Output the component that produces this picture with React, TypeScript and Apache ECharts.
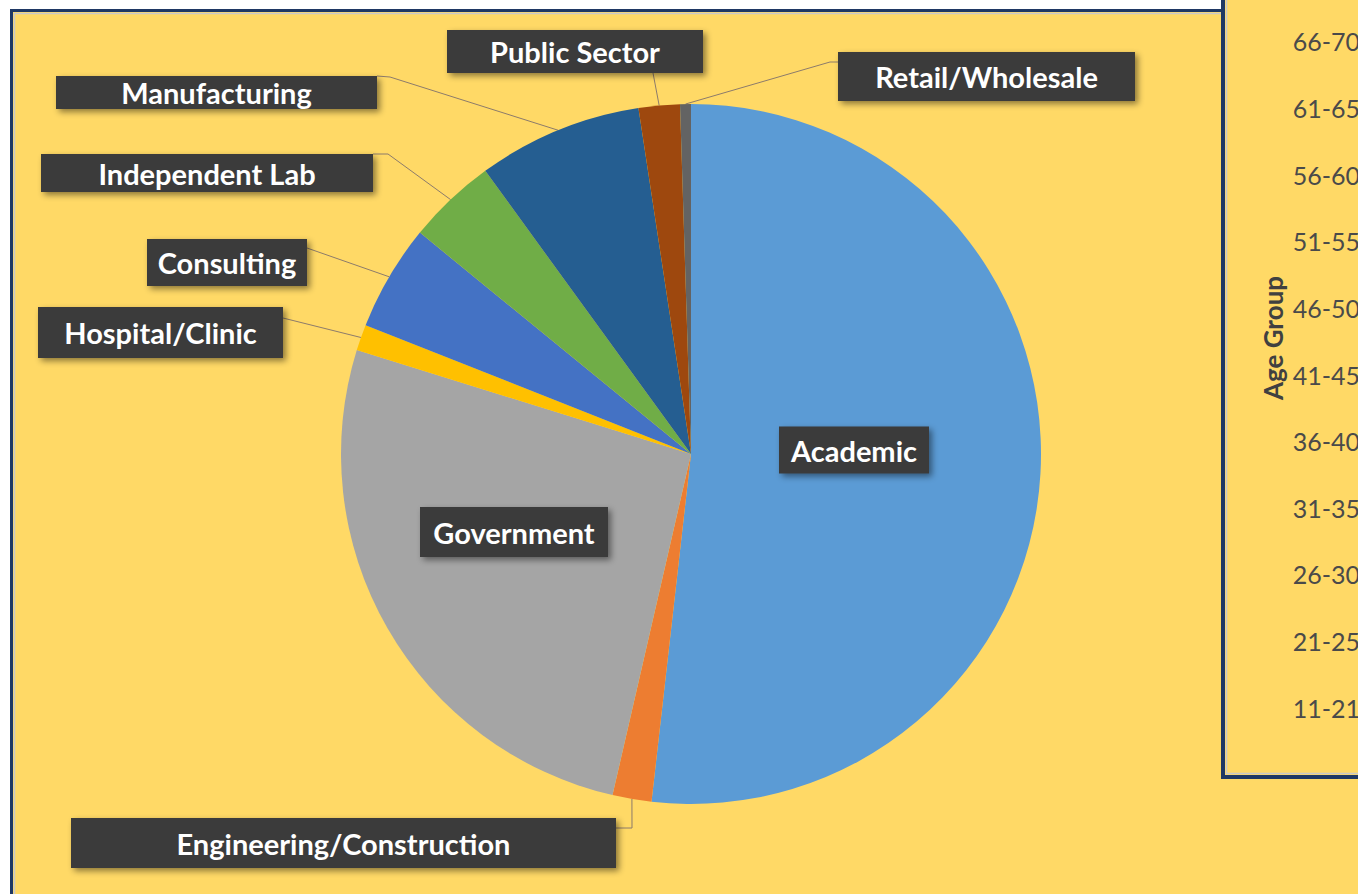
import React, { useEffect, useRef } from "react";
import * as echarts from "echarts";

// ---- data ----
const SECTORS = [
  "Academic",
  "Engineering/Construction",
  "Government",
  "Hospital/Clinic",
  "Consulting",
  "Independent Lab",
  "Manufacturing",
  "Public Sector",
  "Retail/Wholesale",
];
const SHARES = [51.8, 1.8, 26.2, 1.2, 4.9, 4.1, 7.6, 1.9, 0.5];
const SECTOR_COLORS = [
  "#5B9BD5",
  "#ED7D31",
  "#A5A5A5",
  "#FFC000",
  "#4472C4",
  "#70AD47",
  "#255E91",
  "#9E480E",
  "#636363",
];
const AGE_GROUPS = [
  "11-21",
  "21-25",
  "26-30",
  "31-35",
  "36-40",
  "41-45",
  "46-50",
  "51-55",
  "56-60",
  "61-65",
  "66-70",
];
const AXIS_TITLE = "Age Group";

// ---- label boxes (layout only) ----
type Box = { cx: number; cy: number; w: number; h: number; bends?: number[][] };
const LABEL_BOXES: Record<string, Box> = {
  Academic: { cx: 854, cy: 450, w: 150, h: 47 },
  "Engineering/Construction": { cx: 343.5, cy: 843, w: 545, h: 50, bends: [[632, 828], [616, 828]] },
  Government: { cx: 514, cy: 532, w: 188, h: 50 },
  "Hospital/Clinic": { cx: 160.5, cy: 332.5, w: 245, h: 51, bends: [[283, 318]] },
  Consulting: { cx: 227, cy: 262.5, w: 160, h: 47, bends: [[307, 248]] },
  "Independent Lab": { cx: 207, cy: 173, w: 332, h: 38, bends: [[388, 154], [373, 154]] },
  Manufacturing: { cx: 216.5, cy: 92.5, w: 321, h: 33, bends: [[390, 77], [377, 76]] },
  "Public Sector": { cx: 575, cy: 51.5, w: 256, h: 43, bends: [[653, 73]] },
  "Retail/Wholesale": { cx: 986.5, cy: 76.5, w: 297, h: 49, bends: [[830, 62], [838, 62]] },
};

const PANEL_FILL = "#FFD966";
const NAVY = "#1F3864";

export default function App() {
  const ref = useRef<HTMLDivElement>(null);

  useEffect(() => {
    if (!ref.current) return;
    const chart = echarts.init(ref.current, undefined, { renderer: "svg" });

    const pieData = SECTORS.map((name, i) => {
      const b = LABEL_BOXES[name];
      return {
        name,
        value: SHARES[i],
        itemStyle: { color: SECTOR_COLORS[i] },
        label: { width: b.w, height: b.h, lineHeight: b.h },
        labelLine: { show: !!b.bends },
      };
    });

    chart.setOption({
      animation: false,
      backgroundColor: "#ffffff",
      graphic: [
        {
          type: "rect",
          z: 0,
          silent: true,
          shape: { x: 11.5, y: 10.5, width: 1500, height: 1000 },
          style: { fill: PANEL_FILL, stroke: NAVY, lineWidth: 3 },
        },
        {
          type: "rect",
          z: 1,
          silent: true,
          shape: { x: 14.5, y: 13.5, width: 1500, height: 1000 },
          style: { fill: "none", stroke: "#C9C9C9", lineWidth: 1.5 },
        },
        {
          type: "rect",
          z: 3,
          silent: true,
          shape: { x: 1223, y: -20, width: 300, height: 797 },
          style: { fill: PANEL_FILL, stroke: NAVY, lineWidth: 4 },
        },
        {
          type: "rect",
          z: 4,
          silent: true,
          shape: { x: 1226.5, y: -20, width: 300, height: 793.5 },
          style: { fill: "none", stroke: "#C9C9C9", lineWidth: 1.5 },
        },
        {
          type: "text",
          z: 6,
          silent: true,
          x: 1273,
          y: 338,
          rotation: Math.PI / 2,
          style: {
            text: AXIS_TITLE,
            font: "bold 26px Lato",
            fill: "#404040",
            align: "center",
            verticalAlign: "middle",
          },
        },
      ],
      grid: { left: 1368, top: 8, width: 400, height: 733 },
      xAxis: { type: "value", show: false },
      yAxis: {
        type: "category",
        data: AGE_GROUPS,
        z: 6,
        axisLine: { show: false },
        axisTick: { show: false },
        splitLine: { show: false },
        axisLabel: {
          color: "#4a4a4a",
          fontFamily: "Lato",
          fontSize: 25,
          margin: 8,
        },
      },
      series: [
        {
          type: "pie",
          z: 2,
          silent: true,
          center: [691, 454],
          radius: 350,
          startAngle: 90,
          clockwise: true,
          avoidLabelOverlap: false,
          itemStyle: { borderWidth: 0 },
          emphasis: { disabled: true },
          label: {
            show: true,
            position: "outside",
            formatter: "{b}",
            color: "#ffffff",
            fontFamily: "Lato",
            fontWeight: "bold",
            fontSize: 29,
            backgroundColor: "#3b3b3b",
            padding: 0,
            align: "center",
            overflow: "none",
            shadowColor: "rgba(0,0,0,0.45)",
            shadowBlur: 6,
            shadowOffsetX: 3,
            shadowOffsetY: 3,
          },
          labelLine: {
            show: true,
            length: 10,
            length2: 10,
            smooth: false,
            lineStyle: { color: "#8c7b6b", width: 1 },
          },
          labelLayout: (p: any) => {
            const b = LABEL_BOXES[SECTORS[p.dataIndex]];
            const out: any = { x: b.cx, y: b.cy, align: "center", verticalAlign: "middle" };
            if (b.bends && p.labelLinePoints && p.labelLinePoints.length) {
              out.labelLinePoints = [p.labelLinePoints[0], ...b.bends];
            }
            return out;
          },
          data: pieData,
        },
      ],
    });

    return () => chart.dispose();
  }, []);

  return (
    <div
      ref={ref}
      style={{ position: "fixed", left: 0, top: 0, width: 1358, height: 894 }}
    />
  );
}
